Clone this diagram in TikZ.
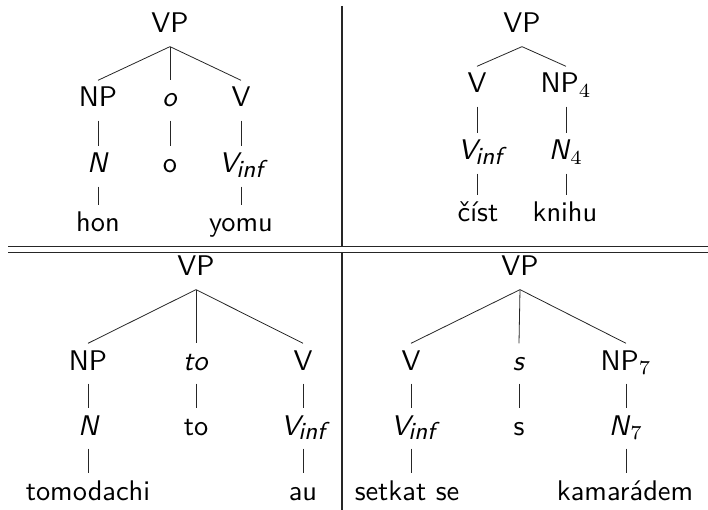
\documentclass[tikz,border=0pt]{standalone}
\renewcommand{\familydefault}{\sfdefault}
\begin{document}
\begin{tikzpicture}[x=0.75pt,y=-0.75pt,
  lab/.style={anchor=base,inner sep=0pt,text height=9.2pt,text depth=4.6pt,scale=2.13,font=\sffamily},
  branch/.style={line width=0.6pt,black!85},
  rule/.style={line width=0.8pt,black!85}]
\useasboundingbox (0,0) rectangle (708,510);
\newcommand{\Vinf}{\textit{V\kern-0.6pt\raisebox{-1.7pt}{\fontsize{8.6}{10}\selectfont inf}}}

% frame of the four panels
\coordinate (hl1) at (8,246.7);  \coordinate (hr1) at (708,246.7);
\coordinate (hl2) at (8,252.3);  \coordinate (hr2) at (708,252.3);
\coordinate (vt1) at (342,6);    \coordinate (vt2) at (342,246.7);
\coordinate (vb1) at (342,252.3);\coordinate (vb2) at (342,510);
\draw[rule] (hl1) -- (hr1);
\draw[rule] (hl2) -- (hr2);
\draw[rule] (vt1) -- (vt2);
\draw[rule] (vb1) -- (vb2);

% top left: hon o yomu
\node[lab] (a0) at (170,33) {VP};
\node[lab] (a1) at (98,107) {NP};
\node[lab] (a2) at (170,107) {\textit{o}};
\node[lab] (a3) at (241,107) {V};
\node[lab] (a4) at (98,173) {\textit{N}};
\node[lab] (a5) at (170,173) {o};
\node[lab] (a6) at (241,173) {\Vinf};
\node[lab] (a7) at (98,232) {hon};
\node[lab] (a8) at (241,232) {yomu};
\draw[branch] (a0.south) -- (a1.north);
\draw[branch] (a0.south) -- (a2.north);
\draw[branch] (a0.south) -- (a3.north);
\draw[branch] (a1.south) -- (a4.north -| a1.south);
\draw[branch] (a2.south) -- (a5.north -| a2.south);
\draw[branch] (a3.south) -- (a6.north -| a3.south);
\draw[branch] (a4.south) -- (a7.north -| a4.south);
\draw[branch] (a6.south -| a3.south) -- (a8.north -| a3.south);

% top right: číst knihu
\node[lab] (b0) at (522,33) {VP};
\node[lab] (b1) at (477,93) {V};
\node[lab] (b2) at (566,93) {NP$_4$};
\node[lab] (b3) at (480,160) {\Vinf};
\node[lab] (b4) at (566,160) {\textit{N}$_4$};
\node[lab] (b5) at (478,222) {číst};
\node[lab] (b6) at (565,222) {knihu};
\draw[branch] (b0.south) -- (b1.north);
\draw[branch] (b0.south) -- (b2.north);
\draw[branch] (b1.south) -- (b3.north -| b1.south);
\draw[branch] (b2.south) -- (b4.north -| b2.south);
\draw[branch] (b3.south -| b1.south) -- (b5.north -| b1.south);
\draw[branch] (b4.south) -- (b6.north -| b4.south);

% bottom left: tomodachi to au
\node[lab] (c0) at (196,276) {VP};
\node[lab] (c1) at (88,370) {NP};
\node[lab] (c2) at (196,370) {\textit{to}};
\node[lab] (c3) at (303,370) {V};
\node[lab] (c4) at (89,435) {\textit{N}};
\node[lab] (c5) at (196,435) {to};
\node[lab] (c6) at (303,435) {\Vinf};
\node[lab] (c7) at (88,500) {tomodachi};
\node[lab] (c8) at (303,500) {au};
\draw[branch] (c0.south) -- (c1.north);
\draw[branch] (c0.south) -- (c2.north);
\draw[branch] (c0.south) -- (c3.north);
\draw[branch] (c1.south) -- (c4.north -| c1.south);
\draw[branch] (c2.south) -- (c5.north -| c2.south);
\draw[branch] (c3.south) -- (c6.north -| c3.south);
\draw[branch] (c4.south -| c1.south) -- (c7.north -| c1.south);
\draw[branch] (c6.south -| c3.south) -- (c8.north -| c3.south);

% bottom right: setkat se s kamarádem
\node[lab] (d0) at (520,276) {VP};
\node[lab] (d1) at (411,370) {V};
\node[lab] (d2) at (519,370) {\textit{s}};
\node[lab] (d3) at (626,370) {NP$_7$};
\node[lab] (d4) at (413,435) {\Vinf};
\node[lab] (d5) at (519,435) {s};
\node[lab] (d6) at (626,435) {\textit{N}$_7$};
\node[lab] (d7) at (407,500) {setkat se};
\node[lab] (d8) at (625,500) {kamarádem};
\draw[branch] (d0.south) -- (d1.north);
\draw[branch] (d0.south) -- (d2.north);
\draw[branch] (d0.south) -- (d3.north);
\draw[branch] (d1.south) -- (d4.north -| d1.south);
\draw[branch] (d2.south) -- (d5.north -| d2.south);
\draw[branch] (d3.south) -- (d6.north -| d3.south);
\draw[branch] (d4.south -| d1.south) -- (d7.north -| d1.south);
\draw[branch] (d6.south) -- (d8.north -| d6.south);
\end{tikzpicture}
\end{document}
